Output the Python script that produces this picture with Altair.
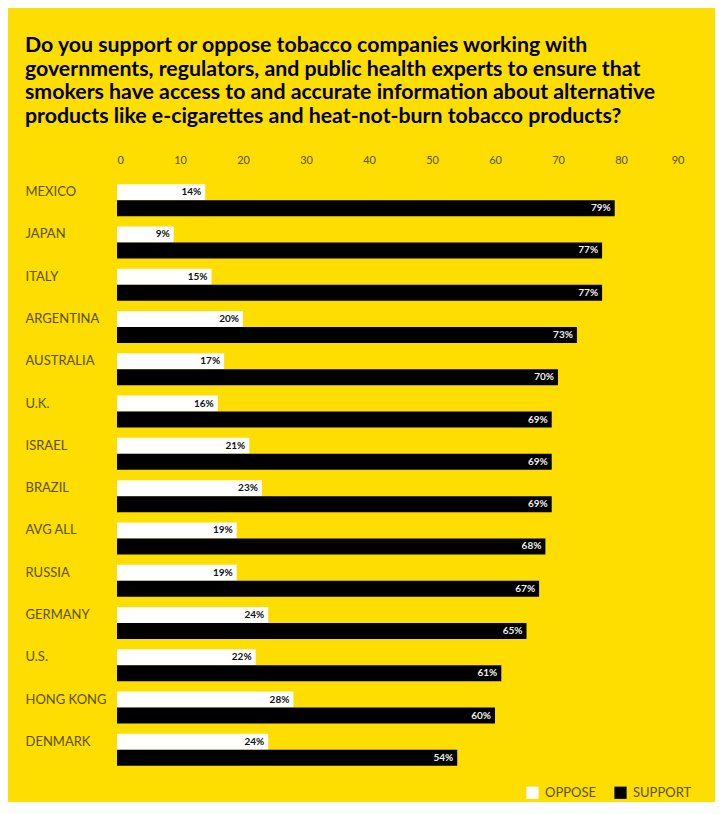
import altair as alt
import pandas as pd

countries = ["MEXICO", "JAPAN", "ITALY", "ARGENTINA", "AUSTRALIA", "U.K.", "ISRAEL",
             "BRAZIL", "AVG ALL", "RUSSIA", "GERMANY", "U.S.", "HONG KONG", "DENMARK"]
oppose = [14, 9, 15, 20, 17, 16, 21, 23, 19, 19, 24, 22, 28, 24]
support = [79, 77, 77, 73, 70, 69, 69, 69, 68, 67, 65, 61, 60, 54]
series = ["OPPOSE", "SUPPORT"]
x_ticks = [0, 10, 20, 30, 40, 50, 60, 70, 80, 90]

title_lines = [
    "Do you support or oppose tobacco companies working with",
    "governments, regulators, and public health experts to ensure that",
    "smokers have access to and accurate information about alternative",
    "products like e-cigarettes and heat-not-burn tobacco products?",
]

rows = []
for c, o, s in zip(countries, oppose, support):
    rows.append({"country": c, "series": "OPPOSE", "value": o, "label": f"{o}%"})
    rows.append({"country": c, "series": "SUPPORT", "value": s, "label": f"{s}%"})
df = pd.DataFrame(rows)

YELLOW = "#FEDD00"
OLIVE = "#5a4e00"

base = alt.Chart(df).encode(
    y=alt.Y("country:N", sort=countries, title=None,
            scale=alt.Scale(paddingInner=0.244, paddingOuter=0.122),
            axis=alt.Axis(labelAlign="left", labelPadding=92, ticks=False, domain=False,
                          labelOffset=-8, labelFont="Lato", labelFontSize=13,
                          labelColor=OLIVE, labelBaseline="middle")),
    yOffset=alt.YOffset("series:N", sort=series,
                        scale=alt.Scale(paddingInner=0, paddingOuter=0)),
    x=alt.X("value:Q", title=None,
            scale=alt.Scale(domain=[0, 90], nice=False),
            axis=alt.Axis(orient="top", values=x_ticks, ticks=False, domain=False,
                          grid=False, labelPadding=14, labelFont="Lato",
                          labelFontSize=11, labelColor=OLIVE)),
)

bars = base.mark_bar(cornerRadius=0).encode(
    color=alt.Color("series:N", sort=series,
                    scale=alt.Scale(domain=series, range=["#FFFFFF", "#000000"]),
                    legend=alt.Legend(title=None, orient="none", legendX=409, legendY=607,
                                      direction="horizontal", symbolType="square",
                                      symbolSize=150, symbolStrokeWidth=0,
                                      symbolOpacity=1, labelFont="Lato",
                                      labelFontSize=13, labelColor=OLIVE,
                                      labelOffset=6, columnPadding=18))
)

labels = base.mark_text(align="right", baseline="middle", dx=-4, font="Lato",
                        fontWeight="bold", fontSize=10).encode(
    text="label:N",
    color=alt.condition("datum.series == 'OPPOSE'", alt.value("#111111"), alt.value("#eeeeee")),
)

chart = alt.layer(bars, labels).properties(
    width=567,
    height=592,
    background=YELLOW,
    padding={"left": 109, "top": 171, "right": 31, "bottom": 31},
    autosize=alt.AutoSizeParams(type="none"),
    title=alt.TitleParams(text=title_lines, anchor="start", font="Lato",
                          fontSize=21.3, fontWeight="bold", color="#000000",
                          lineHeight=23.5, offset=27),
).configure_view(strokeWidth=0)

chart.save("out.html", embed_options={"renderer": "svg", "actions": False})
